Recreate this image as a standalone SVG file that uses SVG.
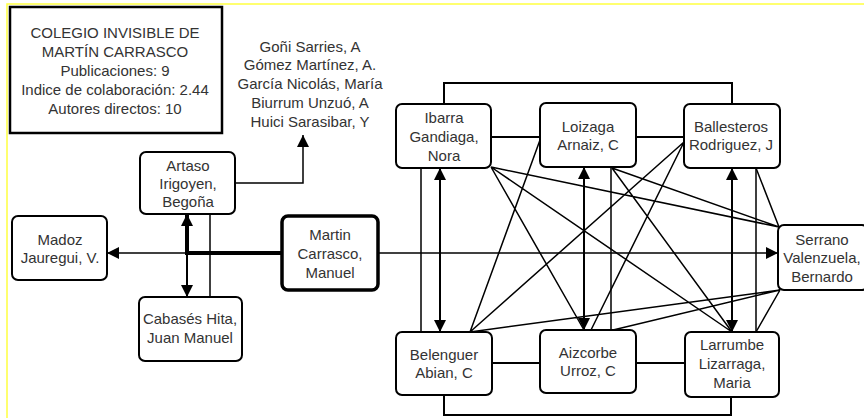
<svg xmlns="http://www.w3.org/2000/svg" width="864" height="418" viewBox="0 0 864 418">
<defs>
<marker id="ah" markerUnits="userSpaceOnUse" markerWidth="12" markerHeight="12" refX="12" refY="6" orient="auto-start-reverse" viewBox="0 0 12 12">
<path d="M0,0 L12,6 L0,12 z" fill="#000"/>
</marker>
<style>
.box{fill:#fff;stroke:#000;stroke-width:2}
.thick{stroke-width:3.5}
.t{font-family:"Liberation Sans",Arial,sans-serif;font-size:15px;fill:#333;text-anchor:middle}
.c{fill:none;stroke:#000;stroke-width:1.5}
.d{fill:none;stroke:#000;stroke-width:2}
</style>
</defs>
<rect width="864" height="418" fill="#fff"/>
<path d="M7,418 L7,4 L864,4" fill="none" stroke="#ffff40" stroke-width="1.5"/>

<g id="connectors">
<path class="c" d="M282,253 L107,253" marker-end="url(#ah)"/>
<path d="M282,253 L187,253 L187,214" fill="none" stroke="#000" stroke-width="4" marker-end="url(#ah)"/>
<path class="d" d="M187,253 L187,297" marker-end="url(#ah)"/>
<path class="c" d="M210,214 L210,297"/>
<path class="c" d="M235,183 L303,183 L303,135" marker-end="url(#ah)"/>
<path class="c" d="M378,253 L778,253" marker-end="url(#ah)"/>
<path class="d" d="M444,104 L444,83 L732,83 L732,104"/>
<path class="d" d="M444,395 L444,415 L731,415 L731,397"/>
<path class="d" d="M491,137 L540,137 M636,137 L684,137 M492,363 L540,363 M636,363 L685,363"/>
<path class="c" d="M421,168 L421,332 M611,167 L611,330 M756,168 L756,332"/>
<path class="d" d="M440,168 L440,332" marker-start="url(#ah)" marker-end="url(#ah)"/>
<path class="d" d="M584,167 L584,330" marker-start="url(#ah)" marker-end="url(#ah)"/>
<path class="d" d="M732,168 L732,332" marker-start="url(#ah)" marker-end="url(#ah)"/>
<path class="c" d="M491,167 L779,227 M491,167 L732,332 M491,167 L584,330 M540,140 L470,332 M684,142 L470,332 M684,142 L591,330 M612,168 L732,332 M612,168 L779,227 M470,332 L780,290 M613,330 L780,290 M756,168 L779,227 M756,332 L780,290"/>
</g>

<g id="info">
<rect x="10" y="7" width="212" height="126" fill="#fff" stroke="#000" stroke-width="2.5"/>
<text class="t" x="115" y="38">COLEGIO INVISIBLE DE</text>
<text class="t" x="115" y="57">MARTÍN CARRASCO</text>
<text class="t" x="115" y="76">Publicaciones: 9</text>
<text class="t" x="115" y="95">Indice de colaboración: 2.44</text>
<text class="t" x="115" y="114">Autores directos: 10</text>
</g>

<g id="names">
<text class="t" x="310" y="52">Goñi Sarries, A</text>
<text class="t" x="310" y="70">Gómez Martínez, A.</text>
<text class="t" x="310" y="89">García Nicolás, María</text>
<text class="t" x="310" y="108">Biurrum Unzuó, A</text>
<text class="t" x="310" y="127">Huici Sarasibar, Y</text>
</g>

<g id="artaso">
<rect class="box" x="140" y="152" width="95" height="62" rx="6"/>
<text class="t" x="188" y="171">Artaso</text>
<text class="t" x="188" y="189">Irigoyen,</text>
<text class="t" x="188" y="207">Begoña</text>
</g>

<g id="madoz">
<rect class="box" x="12" y="216" width="95" height="64" rx="6"/>
<text class="t" x="60" y="245">Madoz</text>
<text class="t" x="60" y="263">Jauregui, V.</text>
</g>

<g id="martin">
<rect class="box thick" x="282" y="216" width="96" height="74" rx="6"/>
<text class="t" x="330" y="240">Martin</text>
<text class="t" x="330" y="259">Carrasco,</text>
<text class="t" x="330" y="278">Manuel</text>
</g>

<g id="cabases">
<rect class="box" x="139" y="297" width="103" height="64" rx="6"/>
<text class="t" x="190" y="324">Cabasés Hita,</text>
<text class="t" x="190" y="343">Juan Manuel</text>
</g>

<g id="ibarra">
<rect class="box" x="396" y="104" width="95" height="64" rx="6"/>
<text class="t" x="444" y="123">Ibarra</text>
<text class="t" x="444" y="142">Gandiaga,</text>
<text class="t" x="444" y="161">Nora</text>
</g>

<g id="loizaga">
<rect class="box" x="540" y="103" width="96" height="64" rx="6"/>
<text class="t" x="588" y="132">Loizaga</text>
<text class="t" x="588" y="150">Arnaiz, C</text>
</g>

<g id="ballesteros">
<rect class="box" x="684" y="104" width="96" height="64" rx="6"/>
<text class="t" x="731" y="132">Ballesteros</text>
<text class="t" x="731" y="150">Rodriguez, J</text>
</g>

<g id="serrano">
<rect class="box" x="778" y="225" width="90" height="65" rx="6"/>
<text class="t" x="822" y="245">Serrano</text>
<text class="t" x="822" y="263">Valenzuela,</text>
<text class="t" x="822" y="282">Bernardo</text>
</g>

<g id="belenguer">
<rect class="box" x="396" y="332" width="96" height="63" rx="6"/>
<text class="t" x="444" y="360">Belenguer</text>
<text class="t" x="444" y="378">Abian, C</text>
</g>

<g id="aizcorbe">
<rect class="box" x="540" y="330" width="96" height="63" rx="6"/>
<text class="t" x="588" y="358">Aizcorbe</text>
<text class="t" x="588" y="376">Urroz, C</text>
</g>

<g id="larrumbe">
<rect class="box" x="685" y="332" width="94" height="65" rx="6"/>
<text class="t" x="732" y="350">Larrumbe</text>
<text class="t" x="732" y="369">Lizarraga,</text>
<text class="t" x="732" y="388">Maria</text>
</g>
</svg>
